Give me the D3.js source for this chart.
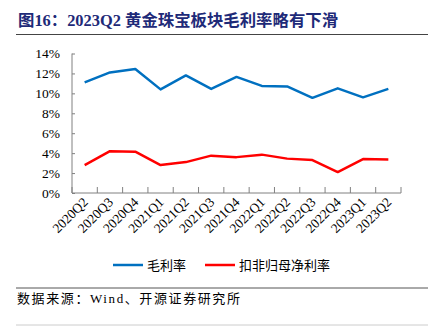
<!DOCTYPE html>
<html>
<head>
<meta charset="utf-8">
<script src="https://cdn.jsdelivr.net/npm/d3@7"></script>
<style>
  html, body { margin: 0; padding: 0; background: #fff; }
  svg { display: block; }
</style>
</head>
<body>
<svg id="chart" width="440" height="336"></svg>
<script>
// Quarterly categories
const quarters = ["2020Q2","2020Q3","2020Q4","2021Q1","2021Q2","2021Q3","2021Q4",
                  "2022Q1","2022Q2","2022Q3","2022Q4","2023Q1","2023Q2"];
// Gross margin (%)
const grossMargin = [11.1, 12.1, 12.45, 10.4, 11.8, 10.45, 11.65, 10.75, 10.7, 9.55, 10.5, 9.6, 10.45];
// Net margin excluding non-recurring items (%)
const netMargin = [2.8, 4.2, 4.15, 2.8, 3.1, 3.75, 3.6, 3.85, 3.45, 3.3, 2.1, 3.4, 3.35];
const yTicks = [0, 2, 4, 6, 8, 10, 12, 14];
const seriesNames = ["毛利率", "扣非归母净利率"];
const seriesColors = ["#0070C0", "#FF0000"];

const svg = d3.select("#chart");
const serif = "'Times New Roman', 'Liberation Serif', 'Noto Serif CJK SC', 'Noto Sans CJK SC', serif";
const cjk = "'Times New Roman', 'Liberation Serif', 'Noto Sans CJK SC', serif";

// Title
svg.append("text")
  .attr("x", 18).attr("y", 26)
  .attr("font-family", cjk)
  .attr("font-size", 16.4).attr("font-weight", "bold")
  .attr("fill", "#1E2A78")
  .text("图16：2023Q2 黄金珠宝板块毛利率略有下滑");
svg.append("line").attr("x1", 16).attr("x2", 428).attr("y1", 34.5).attr("y2", 34.5)
  .attr("stroke", "#444").attr("stroke-width", 1.2);

const plotL = 72, plotR = 401, plotT = 53.5, plotB = 193;
const x = d3.scaleBand().domain(quarters).range([plotL, plotR]);
const y = d3.scaleLinear().domain([0, 14]).range([plotB, plotT]);

// Y axis
const yAxis = svg.append("g").attr("transform", `translate(${plotL},0)`)
  .call(d3.axisLeft(y).tickValues(yTicks).tickSize(-3).tickPadding(12)
    .tickFormat(d => d + "%"));
yAxis.selectAll("text").attr("font-family", serif).attr("font-size", 13.5).attr("fill", "#000");
yAxis.selectAll("line, path").attr("stroke", "#808080");
yAxis.select(".domain").attr("d", `M0,${plotT}V${plotB}`);

// X axis with inward ticks at band boundaries
const xg = svg.append("g").attr("transform", `translate(0,${plotB})`);
xg.append("line").attr("x1", plotL).attr("x2", plotR).attr("y1", 0).attr("y2", 0)
  .attr("stroke", "#808080");
xg.selectAll("line.tick").data(d3.range(quarters.length + 1)).join("line")
  .attr("class", "tick")
  .attr("x1", i => plotL + i * x.step()).attr("x2", i => plotL + i * x.step())
  .attr("y1", 0).attr("y2", -6).attr("stroke", "#808080");
xg.selectAll("text").data(quarters).join("text")
  .attr("transform", d => `translate(${x(d) + x.bandwidth() / 2 + 4},10) rotate(-45)`)
  .attr("text-anchor", "end")
  .attr("font-family", serif).attr("font-size", 13.5)
  .attr("fill", "#000")
  .text(d => d);

// Lines
const line = d3.line().x((d, i) => x(quarters[i]) + x.bandwidth() / 2).y(d => y(d));
[grossMargin, netMargin].forEach((s, k) => {
  svg.append("path").datum(s)
    .attr("d", line).attr("fill", "none")
    .attr("stroke", seriesColors[k]).attr("stroke-width", 2.5)
    .attr("stroke-linejoin", "round");
});

// Legend
const legendX = [113, 205];
seriesNames.forEach((n, k) => {
  svg.append("line").attr("x1", legendX[k]).attr("x2", legendX[k] + 30)
    .attr("y1", 265).attr("y2", 265)
    .attr("stroke", seriesColors[k]).attr("stroke-width", 2.5);
  svg.append("text").attr("x", legendX[k] + 34).attr("y", 270)
    .attr("font-family", cjk).attr("font-size", 13).attr("fill", "#000")
    .text(n);
});

// Source
svg.append("line").attr("x1", 16).attr("x2", 428).attr("y1", 288).attr("y2", 288)
  .attr("stroke", "#555").attr("stroke-width", 1);
svg.append("text").attr("x", 17).attr("y", 303)
  .attr("font-family", cjk).attr("font-size", 13).attr("letter-spacing", 1.6)
  .attr("fill", "#000")
  .text("数据来源：Wind、开源证券研究所");
svg.append("line").attr("x1", 16).attr("x2", 428).attr("y1", 325).attr("y2", 325)
  .attr("stroke", "#ccc").attr("stroke-width", 1);
</script>
</body>
</html>
